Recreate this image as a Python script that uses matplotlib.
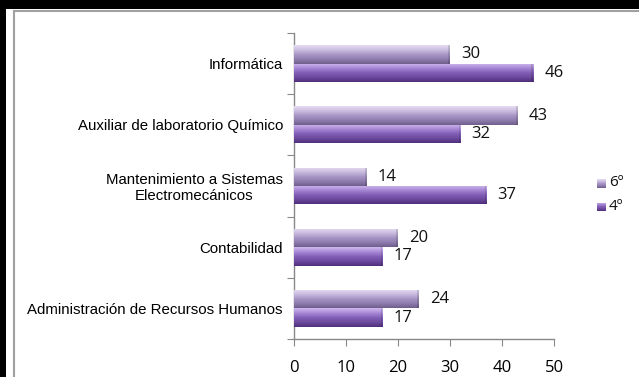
import numpy as np
import matplotlib.pyplot as plt
from matplotlib.patches import Rectangle
from matplotlib.colors import LinearSegmentedColormap

categories = ["Administración de Recursos Humanos", "Contabilidad",
              "Mantenimiento a Sistemas\nElectromecánicos",
              "Auxiliar de laboratorio Químico", "Informática"]
sexto = [24, 20, 14, 43, 30]
cuarto = [17, 17, 37, 32, 46]
series_names = ["6º", "4º"]
xticks = [0, 10, 20, 30, 40, 50]

# gradient colours (bottom -> top of bar)
grad_6 = ["#6f5e8c", "#8f7daf", "#a897c6", "#cbbde0", "#e6dcf2"]
grad_4 = ["#4f2f7c", "#6c4a9e", "#8360b8", "#a98ad6", "#cfb8ee"]
cmap6 = LinearSegmentedColormap.from_list("g6", grad_6)
cmap4 = LinearSegmentedColormap.from_list("g4", grad_4)

W, H = 639, 377
fig = plt.figure(figsize=(W / 100, H / 100), dpi=100, facecolor="white")

# background axes in pixel coords for the frame
bg = fig.add_axes([0, 0, 1, 1], zorder=-10)
bg.set_xlim(0, W)
bg.set_ylim(H, 0)
bg.axis("off")
bg.add_patch(Rectangle((0, 0), W, 9, color="black", lw=0))
bg.add_patch(Rectangle((0, 0), 6, H, color="black", lw=0))
bg.plot([13.5, 13.5], [10.5, H], color="#a0a0a0", lw=1.5)
bg.plot([13.5, W], [10.5, 10.5], color="#a0a0a0", lw=1.5)

ax = fig.add_axes([294 / W, 1 - 339 / H, 260 / W, 306 / H])
y = np.arange(len(categories))
h = 0.3
b6 = ax.barh(y + h / 2, sexto, height=h, color="#a897c6", edgecolor="none", zorder=2)
b4 = ax.barh(y - h / 2, cuarto, height=h, color="#8360b8", edgecolor="none", zorder=2)

grad = np.linspace(0, 1, 64).reshape(-1, 1)
for bars, cm in ((b6, cmap6), (b4, cmap4)):
    for r in bars:
        x0, y0 = r.get_x(), r.get_y()
        im = ax.imshow(grad, cmap=cm, aspect="auto", origin="lower",
                       extent=[x0, x0 + r.get_width(), y0, y0 + r.get_height()],
                       zorder=3, interpolation="bilinear")
        im.set_clip_path(r)
        ax.add_patch(Rectangle((x0 + r.get_width() - 0.35, y0), 0.35, r.get_height(),
                               color="#000000", alpha=0.12, zorder=4, lw=0))

for bars, vals in ((b6, sexto), (b4, cuarto)):
    for r, v in zip(bars, vals):
        ax.annotate(str(v), (r.get_width(), r.get_y() + r.get_height() / 2),
                    xytext=(8, 0), textcoords="offset points", va="center", ha="left",
                    fontsize=12, family="Open Sans", color="#111111")

ax.set_xlim(0, 50)
ax.set_ylim(-0.5, len(categories) - 0.5)
ax.set_xticks(xticks)
ax.set_xticklabels([str(t) for t in xticks], family="Open Sans", fontsize=12)
ax.set_yticks(np.arange(len(categories) + 1) - 0.5)
ax.set_yticklabels([])
ax.set_yticks(y, minor=True)
ax.set_yticklabels(categories, minor=True, family="Liberation Sans", fontsize=10.8,
                   multialignment="center", linespacing=1.1)
ax.tick_params(axis="y", which="minor", length=0, pad=8)
ax.tick_params(axis="y", which="major", length=5, color="#888888", direction="out")
ax.tick_params(axis="x", length=5, color="#888888", pad=10)
for s in ("top", "right"):
    ax.spines[s].set_visible(False)
for s in ("left", "bottom"):
    ax.spines[s].set_color("#888888")
    ax.spines[s].set_linewidth(1.0)
ax.set_facecolor("none")

# legend
lx, ly = 597 / W, 1 - 183 / H
for i, (name, cm) in enumerate(zip(series_names, (cmap6, cmap4))):
    yy = ly - i * 24 / H
    lax = fig.add_axes([lx, yy - 4.5 / H, 9 / W, 9 / H])
    lax.imshow(grad, cmap=cm, aspect="auto", origin="lower")
    lax.axis("off")
    fig.text(lx + 12 / W, yy, name, va="center", ha="left",
             family="Open Sans", fontsize=11, color="#111111")

fig.savefig("out.png", dpi=100, facecolor="white")
